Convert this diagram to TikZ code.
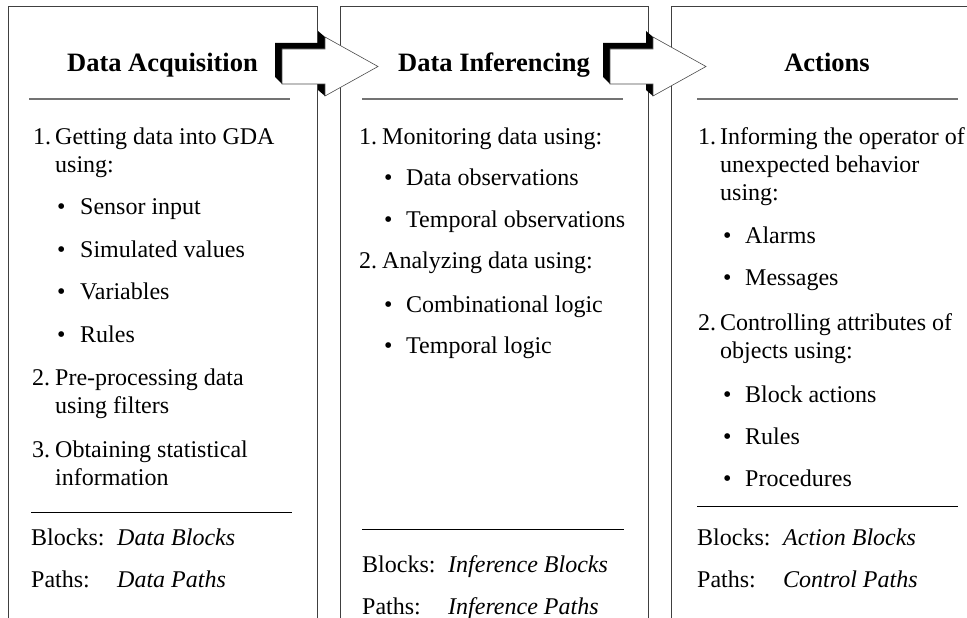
\documentclass[tikz,border=0pt]{standalone}
\usepackage{fontspec}
\setmainfont{Liberation Serif}

\begin{document}
\begin{tikzpicture}
[x=1pt, y=1pt, every node/.style={inner sep=0pt},
 txt/.style={anchor=base west, font=\fontsize{24}{28}\selectfont},
 ital/.style={anchor=base west, font=\fontsize{24}{28}\selectfont\itshape},
 ttl/.style={anchor=base, font=\fontsize{26.5}{30}\selectfont\bfseries},
 panelline/.style={line width=1pt, draw=black!75},
 titlerule/.style={line width=1.5pt, draw=black!55},
 footrule/.style={line width=1pt, draw=black}]
\clip (0,0) rectangle (967,-618);

% panels, open at the bottom
\draw [panelline] (8,-630) -- (8,-7) -- (317,-7) -- (317,-630);
\draw [panelline] (340,-630) -- (340,-7) -- (648,-7) -- (648,-630);
\draw [panelline] (671,-630) -- (671,-7) -- (990,-7) -- (990,-630);

% block arrows between the panels
\foreach \dx in {0,328} {
\begin{scope}[xshift=\dx]
\fill [black] (275,-43) -- (318,-43) -- (318,-31) -- (325,-37) -- (325,-49) -- (282,-49) -- (282,-84) -- (275,-77) -- cycle;
\fill [black] (318,-84) -- (325,-84) -- (325,-96) -- (318,-90) -- cycle;
\draw [fill=white, draw=black!70, line width=0.6pt] (282,-49) -- (325,-49) -- (325,-37) -- (378,-66.5) -- (325,-96) -- (325,-84) -- (282,-84) -- cycle;
\end{scope}
}

% Data Acquisition
\node (t1) [ttl] at (162.5,-72) {Data Acquisition};
\draw [titlerule] (29,-99) -- (290,-99);
\node (n11) [txt] at (33,-144) {1.};
\node (a11) [txt] at (55,-144) {Getting data into GDA};
\node (a12) [txt] at (55,-172) {using:};
\node (b11) [txt] at (57,-214) {•};
\node (c11) [txt] at (80,-214) {Sensor input};
\node (b12) [txt] at (57,-257) {•};
\node (c12) [txt] at (80,-257) {Simulated values};
\node (b13) [txt] at (57,-299) {•};
\node (c13) [txt] at (80,-299) {Variables};
\node (b14) [txt] at (57,-342) {•};
\node (c14) [txt] at (80,-342) {Rules};
\node (n12) [txt] at (32,-385) {2.};
\node (a13) [txt] at (55,-385) {Pre-processing data};
\node (a14) [txt] at (55,-413) {using filters};
\node (n13) [txt] at (32,-457) {3.};
\node (a15) [txt] at (55,-457) {Obtaining statistical};
\node (a16) [txt] at (55,-485) {information};
\draw [footrule] (31,-512) -- (292,-512);
\node (k11) [txt] at (31,-545) {Blocks:};
\node (v11) [ital] at (117,-545) {Data Blocks};
\node (k12) [txt] at (31,-587) {Paths:};
\node (v12) [ital] at (117,-587) {Data Paths};

% Data Inferencing
\node (t2) [ttl] at (494,-72) {Data Inferencing};
\draw [titlerule] (362,-99) -- (623,-99);
\node (n21) [txt] at (359,-144) {1.};
\node (a21) [txt] at (382,-144) {Monitoring data using:};
\node (b21) [txt] at (384,-185) {•};
\node (c21) [txt] at (406,-185) {Data observations};
\node (b22) [txt] at (384,-227) {•};
\node (c22) [txt] at (406,-227) {Temporal observations};
\node (n22) [txt] at (359,-268) {2.};
\node (a22) [txt] at (382,-268) {Analyzing data using:};
\node (b23) [txt] at (384,-312) {•};
\node (c23) [txt] at (406,-312) {Combinational logic};
\node (b24) [txt] at (384,-353) {•};
\node (c24) [txt] at (406,-353) {Temporal logic};
\draw [footrule] (362,-529) -- (624,-529);
\node (k21) [txt] at (362,-572) {Blocks:};
\node (v21) [ital] at (448,-572) {Inference Blocks};
\node (k22) [txt] at (362,-614) {Paths:};
\node (v22) [ital] at (448,-614) {Inference Paths};

% Actions
\node (t3) [ttl] at (827,-72) {Actions};
\draw [titlerule] (697,-99) -- (958,-99);
\node (n31) [txt] at (698,-144) {1.};
\node (a31) [txt] at (720,-144) {Informing the operator of};
\node (a32) [txt] at (720,-172) {unexpected behavior};
\node (a33) [txt] at (720,-200) {using:};
\node (b31) [txt] at (723,-243) {•};
\node (c31) [txt] at (745,-243) {Alarms};
\node (b32) [txt] at (723,-285) {•};
\node (c32) [txt] at (745,-285) {Messages};
\node (n32) [txt] at (698,-330) {2.};
\node (a34) [txt] at (720,-330) {Controlling attributes of};
\node (a35) [txt] at (720,-358) {objects using:};
\node (b33) [txt] at (723,-402) {•};
\node (c33) [txt] at (745,-402) {Block actions};
\node (b34) [txt] at (723,-444) {•};
\node (c34) [txt] at (745,-444) {Rules};
\node (b35) [txt] at (723,-486) {•};
\node (c35) [txt] at (745,-486) {Procedures};
\draw [footrule] (697,-506) -- (958,-506);
\node (k31) [txt] at (697,-545) {Blocks:};
\node (v31) [ital] at (783,-545) {Action Blocks};
\node (k32) [txt] at (697,-587) {Paths:};
\node (v32) [ital] at (783,-587) {Control Paths};

\end{tikzpicture}
\end{document}
